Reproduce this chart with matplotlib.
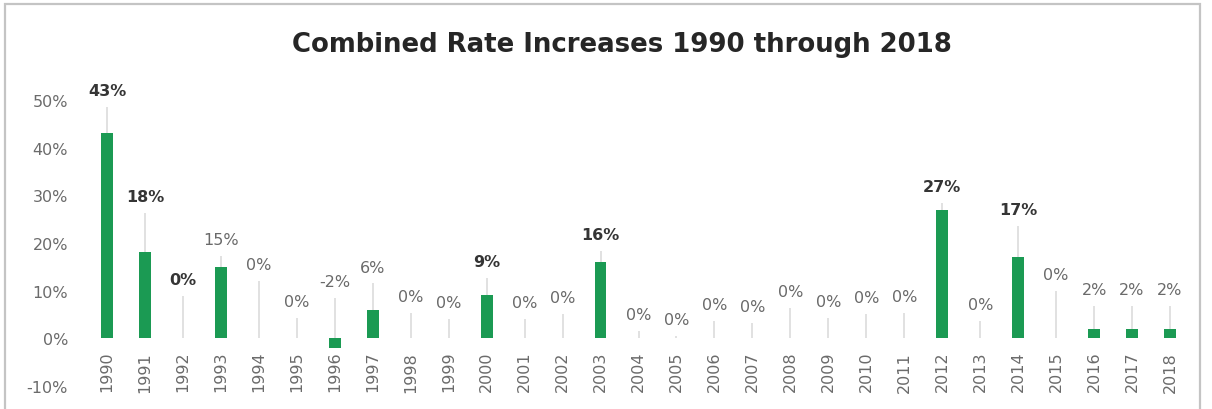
import matplotlib
matplotlib.use("Agg")
import matplotlib.pyplot as plt
from matplotlib.patches import Rectangle

# Annual combined rate increases (percent)
years = list(range(1990, 2019))
increase = [43, 18, 0, 15, 0, 0, -2, 6, 0, 0,
            9, 0, 0, 16, 0, 0, 0, 0, 0, 0,
            0, 0, 27, 0, 17, 0, 2, 2, 2]
# Upper end of the range shown above each year's bar (percent)
upper = [48.5, 26.3, 8.9, 17.3, 12.0, 4.3, 8.5, 11.5, 5.3, 4.1,
         12.7, 4.1, 5.1, 18.3, 1.5, 0.5, 3.6, 3.2, 6.4, 4.3,
         5.1, 5.3, 28.4, 3.6, 23.6, 9.9, 6.8, 6.8, 6.8]
yticks = [-10, 0, 10, 20, 30, 40, 50]
title = "Combined Rate Increases 1990 through 2018"

emphasized = {1990, 1991, 1992, 2000, 2003, 2012, 2014}

GREEN = "#1b9a53"
WHISKER = "#dcdcdc"
TICK_GRAY = "#6b6b6b"

fig = plt.figure(figsize=(12.12, 4.10), dpi=100)
fig.patch.set_facecolor("white")

# outer chart frame
fig.add_artist(Rectangle((5 / 1212, -0.01), 1195 / 1212, 1 - 5 / 410 + 0.01,
                         transform=fig.transFigure, fill=False,
                         edgecolor="#c4c4c4", linewidth=1.6))

ax = fig.add_axes([80.4 / 1212, 1 - 387 / 410, (1196.6 - 80.4) / 1212, (387 - 77) / 410])
# category axis sits on the zero line
ax.spines["bottom"].set_position(("data", 0))
for s in ax.spines.values():
    s.set_visible(False)

x = list(range(len(years)))

ax.vlines(x, [max(v, 0) for v in increase], upper, color=WHISKER, linewidth=1.2, zorder=1)
ax.bar(x, increase, width=0.31, color=GREEN, zorder=2)

for xi, yr, v, u in zip(x, years, increase, upper):
    bold = yr in emphasized
    ax.text(xi, u + 3.4, f"{v:.0f}%", ha="center", va="center",
            fontsize=11.5, fontweight="bold" if bold else "normal",
            color="#353535" if bold else "#6a6a6a")

ax.set_xlim(-0.7, len(years) - 0.3)
ax.set_ylim(-10, 55)
ax.set_yticks(yticks)
ax.set_yticklabels([f"{t}%" for t in yticks], fontsize=11.5, color=TICK_GRAY)
ax.set_xticks(x)
ax.set_xticklabels([str(y) for y in years], rotation=90, fontsize=11.5, color=TICK_GRAY)
ax.tick_params(axis="y", length=0, pad=9)
ax.tick_params(axis="x", length=0, pad=9)

fig.text(622 / 1212, 1 - 45 / 410, title, ha="center", va="center",
         fontsize=18.7, fontweight="bold", color="#262626")

fig.savefig("out.png", dpi=100, facecolor="white")
